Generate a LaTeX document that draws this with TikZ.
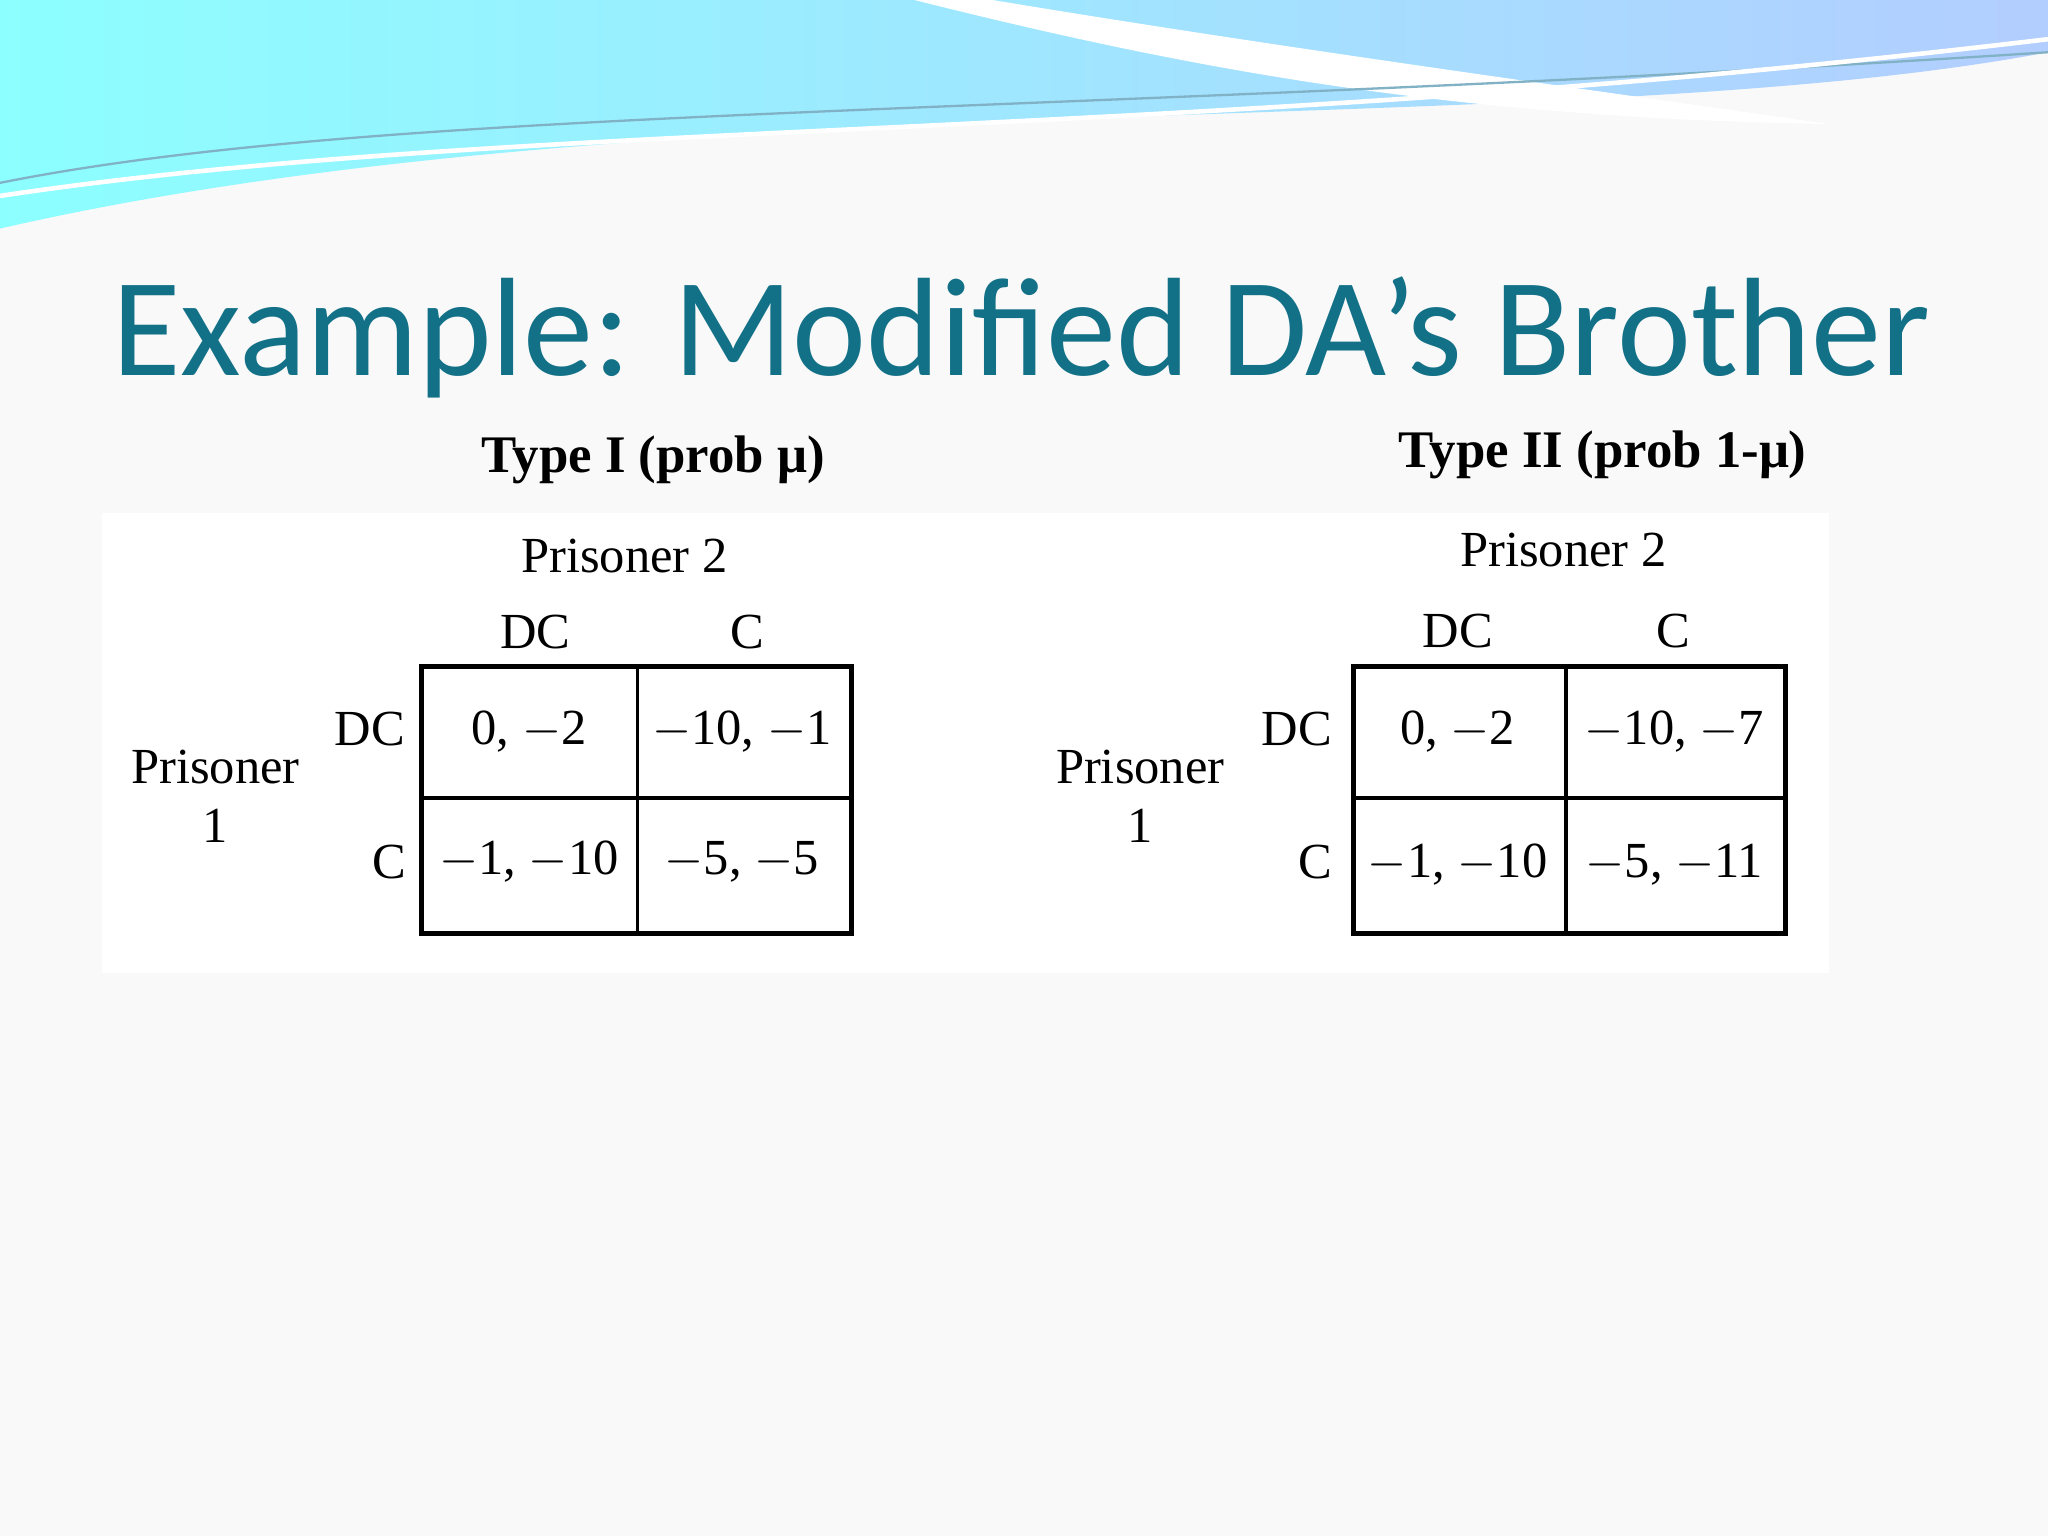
\documentclass[tikz,border=0pt]{standalone}
\usepackage{fontspec}
\setmainfont{Liberation Serif}
\newfontfamily\titlefont{Carlito}
\definecolor{titlec}{RGB}{18,112,135}
\begin{document}
\begin{tikzpicture}[x=0.01cm,y=-0.01cm,
  lbl/.style={font=\fontsize{11}{13}\selectfont},
  hdr/.style={font=\bfseries\fontsize{11.5}{14}\selectfont},
  box/.style={draw,line width=1.1pt}]
\useasboundingbox (0,0) rectangle (1568,1176);
\fill[gray!5] (0,0) rectangle (1568,1176);
% top wave
\shade[left color=cyan!45, right color=cyan!35!blue!30] (0,0) -- (1568,0) -- (1568,40)
  .. controls (1200,110) and (500,60) .. (0,175) -- cycle;
\fill[white] (700,0) .. controls (900,50) and (1100,90) .. (1400,95)
  .. controls (1300,80) and (1000,40) .. (760,0) -- cycle;
\draw[cyan!60!black!60,line width=0.5pt] (0,140) .. controls (300,80) and (800,90) .. (1568,40);
\draw[white,line width=1pt] (0,150) .. controls (400,90) and (900,110) .. (1568,30);
% title
\node[font=\titlefont\fontsize{30.5}{36}\selectfont,text=titlec] (title) at (782,258) {Example: Modified DA’s Brother};
% panels
\fill[white] (78,393) rectangle (1400,745);
\node[hdr] (h1) at (500,352) {Type I (prob μ)};
\node[hdr] (h2) at (1227,348) {Type II (prob 1-μ)};
% left table
\draw[box] (323,510) rectangle (652,715);
\draw[line width=0.8pt] (488,510) -- (488,715) (323,611) -- (652,611);
\node[lbl] at (478,426) {Prisoner 2};
\node[lbl] at (410,484) {DC};
\node[lbl] at (572,484) {C};
\node[lbl] at (283,558) {DC};
\node[lbl] at (298,660) {C};
\node[lbl] at (165,587) {Prisoner};
\node[lbl] at (165,632) {1};
\node[lbl] at (405,560) {0, $-$2};
\node[lbl] at (568,560) {$-$10, $-$1};
\node[lbl] at (405,660) {$-$1, $-$10};
\node[lbl] at (568,660) {$-$5, $-$5};
% right table
\draw[box] (1036,510) rectangle (1367,715);
\draw[line width=0.8pt] (1199,510) -- (1199,715) (1036,611) -- (1367,611);
\node[lbl] at (1197,421) {Prisoner 2};
\node[lbl] at (1116,483) {DC};
\node[lbl] at (1281,483) {C};
\node[lbl] at (993,558) {DC};
\node[lbl] at (1007,660) {C};
\node[lbl] at (873,587) {Prisoner};
\node[lbl] at (873,632) {1};
\node[lbl] at (1116,560) {0, $-$2};
\node[lbl] at (1282,560) {$-$10, $-$7};
\node[lbl] at (1116,662) {$-$1, $-$10};
\node[lbl] at (1282,662) {$-$5, $-$11};
\end{tikzpicture}
\end{document}
